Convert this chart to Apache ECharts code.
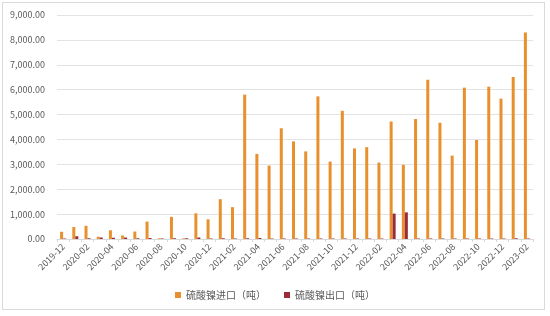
<!DOCTYPE html>
<html><head><meta charset="utf-8">
<script src="https://cdn.jsdelivr.net/npm/echarts@6/dist/echarts.min.js"></script>
<style>
html,body{margin:0;padding:0;background:#fff;}
#wrap{position:absolute;left:2px;top:2px;width:543px;height:308px;border:1px solid #d9d9d9;box-sizing:border-box;}
#c{position:absolute;left:0;top:0;width:550px;height:316px;}
</style>
</head><body>
<div id="wrap"></div>
<div id="c"></div>
<script>
const categories = ['2019-12','2020-01','2020-02','2020-03','2020-04','2020-05','2020-06','2020-07','2020-08','2020-09','2020-10','2020-11','2020-12',
'2021-01','2021-02','2021-03','2021-04','2021-05','2021-06','2021-07','2021-08','2021-09','2021-10','2021-11','2021-12',
'2022-01','2022-02','2022-03','2022-04','2022-05','2022-06','2022-07','2022-08','2022-09','2022-10','2022-11','2022-12',
'2023-01','2023-02'];
const importVals = [290,480,530,90,350,140,300,700,30,890,30,1030,790,
1600,1280,5800,3420,2950,4450,3920,3520,5730,3110,5150,3640,
3690,3070,4720,2980,4820,6400,4670,3350,6080,3980,6120,5640,
6510,8300];
const exportVals = [20,110,30,60,50,60,30,40,20,30,30,60,20,
30,20,30,40,20,20,20,20,20,20,20,20,
20,20,1020,1070,20,20,20,20,20,20,20,20,
30,20];
const importName = '硫酸镍进口（吨）';
const exportName = '硫酸镍出口（吨）';

const chart = echarts.init(document.getElementById('c'));
const font = 'Noto Sans CJK SC';
chart.setOption({
  animation:false,
  textStyle:{fontFamily:font},
  grid:{left:57,right:17,top:15,bottom:77,containLabel:false},
  legend:{
    bottom:11,left:'center',itemWidth:6,itemHeight:6,itemGap:18,
    icon:'rect',
    textStyle:{fontSize:10,color:'#595959',fontFamily:font},
    data:[importName,exportName]
  },
  xAxis:{
    type:'category',data:categories,
    axisLine:{lineStyle:{color:'#d9d9d9'}},
    axisTick:{show:true,interval:0,length:3,lineStyle:{color:'#d9d9d9'}},
    axisLabel:{interval:1,rotate:45,fontSize:9,color:'#595959',margin:6,fontFamily:font}
  },
  yAxis:{
    type:'value',min:0,max:9000,interval:1000,
    axisLine:{show:false},axisTick:{show:false},
    splitLine:{lineStyle:{color:'#e3e3e3'}},
    axisLabel:{fontSize:9,color:'#595959',margin:12,fontFamily:font,
      formatter:v=>v.toLocaleString('en-US',{minimumFractionDigits:2,maximumFractionDigits:2})}
  },
  series:[
    {name:importName,type:'bar',data:importVals,barWidth:3,barGap:'0%',itemStyle:{color:'#E8902E'}},
    {name:exportName,type:'bar',data:exportVals,barWidth:3,barGap:'0%',itemStyle:{color:'#9A2B3A'}}
  ]
});
</script>
</body></html>
